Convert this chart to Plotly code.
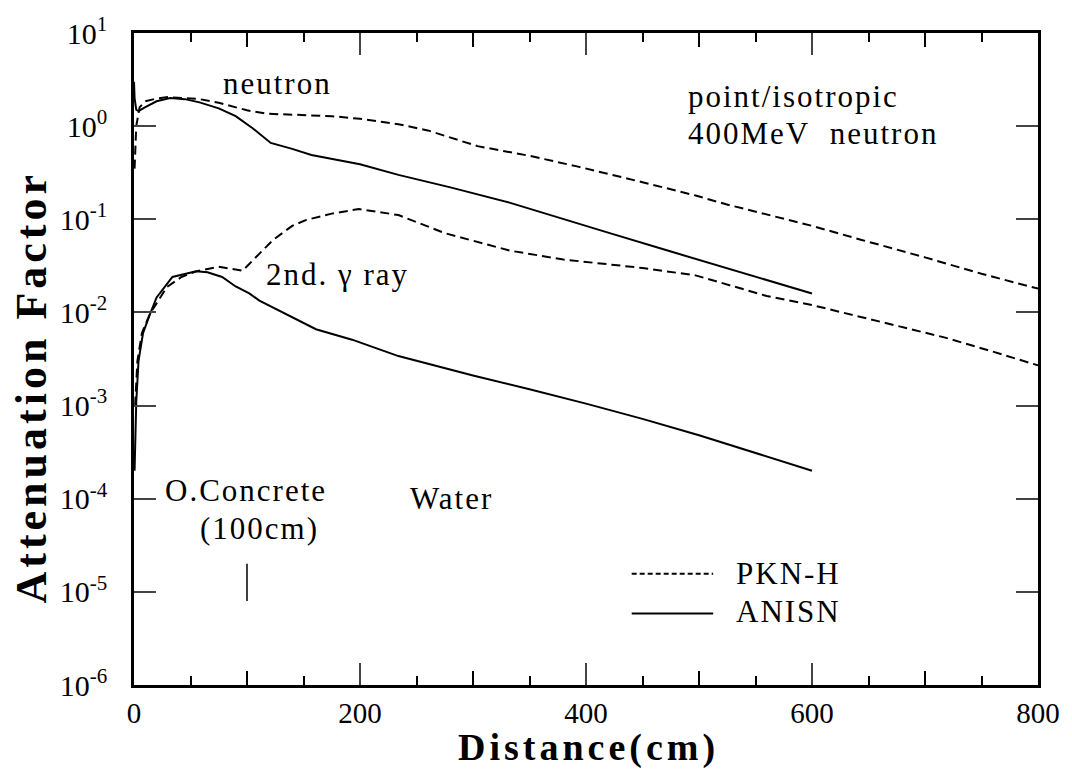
import plotly.graph_objects as go

# --- data -------------------------------------------------------------
# neutron attenuation, PKN-H
n_pkn_x = [0.5, 2, 5, 10, 20, 30, 45, 58, 75, 87, 100, 117, 140, 175, 200,
           234, 260, 304, 350, 392, 450, 497, 524, 570, 600, 644, 700, 750, 800]
n_pkn_y = [0.35, 1.0, 1.6, 1.85, 1.98, 2.05, 2.0, 1.95, 1.78, 1.62, 1.48, 1.36,
           1.32, 1.28, 1.2, 1.05, 0.9, 0.61, 0.48, 0.37, 0.25, 0.18, 0.145,
           0.105, 0.085, 0.060, 0.039, 0.026, 0.018]

# neutron attenuation, ANISN
n_an_x = [0, 0.5, 2, 4, 10, 20, 32, 45, 58, 75, 90, 105, 121, 140, 157, 200,
          234, 280, 333, 380, 421, 470, 524, 560, 600]
n_an_y = [3.0, 2.0, 1.5, 1.45, 1.6, 1.85, 2.0, 1.95, 1.8, 1.55, 1.28, 0.95,
          0.66, 0.57, 0.49, 0.39, 0.30, 0.22, 0.15, 0.10, 0.071, 0.047, 0.03,
          0.022, 0.016]

# secondary gamma ray, PKN-H
g_pkn_x = [1, 3, 7, 14, 29, 42, 55, 75, 96, 105, 123, 140, 152, 175, 199, 216,
           234, 275, 333, 380, 421, 450, 497, 524, 560, 600, 650, 717, 760, 800]
g_pkn_y = [0.001, 0.003, 0.006, 0.0096, 0.0187, 0.024, 0.0276, 0.031, 0.028,
           0.036, 0.060, 0.085, 0.098, 0.115, 0.129, 0.12, 0.111, 0.071, 0.046,
           0.037, 0.033, 0.030, 0.025, 0.020, 0.015, 0.012, 0.0085, 0.0054,
           0.0038, 0.0027]

# secondary gamma ray, ANISN
g_an_x = [0.5, 1, 2, 4, 8, 14, 20, 34, 55, 65, 78, 90, 102, 111, 125, 143, 161,
          193, 234, 300, 350, 400, 450, 500, 550, 600]
g_an_y = [0.0002, 0.0004, 0.0011, 0.003, 0.006, 0.0095, 0.0145, 0.024, 0.0276,
          0.027, 0.024, 0.019, 0.016, 0.0134, 0.011, 0.0085, 0.0066, 0.0051,
          0.0034, 0.0021, 0.0015, 0.00105, 0.00072, 0.00048, 0.00031, 0.0002]

# concrete / water boundary marker
boundary_x = [100, 100]
boundary_y = [2.0e-5, 8.0e-6]

y_tickvals = [1e1, 1e0, 1e-1, 1e-2, 1e-3, 1e-4, 1e-5, 1e-6]
y_ticktext = ["10<sup>1</sup>", "10<sup>0</sup>", "10<sup>-1</sup>", "10<sup>-2</sup>",
              "10<sup>-3</sup>", "10<sup>-4</sup>", "10<sup>-5</sup>", "10<sup>-6</sup>"]
x_tickvals = [0, 200, 400, 600, 800]
x_mid_ticks = [100, 300, 500, 700]

# --- styling ------------------------------------------------------------
SERIF = "Liberation Serif"
DASH = "9px,5px"
LW = 2


def spaced(text, px=2):
    return f'<span style="letter-spacing:{px}px">{text}</span>'


fig = go.Figure()
fig.add_trace(go.Scatter(x=n_pkn_x, y=n_pkn_y, mode="lines",
                         line=dict(color="black", width=LW, dash=DASH)))
fig.add_trace(go.Scatter(x=n_an_x, y=n_an_y, mode="lines",
                         line=dict(color="black", width=LW)))
fig.add_trace(go.Scatter(x=g_pkn_x, y=g_pkn_y, mode="lines",
                         line=dict(color="black", width=LW, dash=DASH)))
fig.add_trace(go.Scatter(x=g_an_x, y=g_an_y, mode="lines",
                         line=dict(color="black", width=LW)))
fig.add_trace(go.Scatter(x=boundary_x, y=boundary_y, mode="lines",
                         line=dict(color="black", width=1.5)))

L, R, T, B = 134, 28, 29, 86
W, H = 1072, 771
pw, ph = W - L - R, H - T - B


def px(xp):
    return (xp - L) / pw


def py(yp):
    return (H - B - yp) / ph


annots = [
    dict(text=spaced("neutron"), x=px(278), y=py(80), xanchor="center"),
    dict(text=spaced("point/isotropic"), x=px(690), y=py(93), xanchor="left"),
    dict(text=spaced("400MeV&nbsp;&nbsp;neutron"), x=px(690), y=py(130), xanchor="left"),
    dict(text=spaced("2nd. γ ray"), x=px(265), y=py(272), xanchor="left"),
    dict(text=spaced("O.Concrete"), x=px(163), y=py(489), xanchor="left"),
    dict(text=spaced("(100cm)"), x=px(198), y=py(528), xanchor="left"),
    dict(text=spaced("Water"), x=px(410), y=py(497), xanchor="left"),
    dict(text=spaced("PKN-H"), x=px(738), y=py(573), xanchor="left"),
    dict(text=spaced("ANISN"), x=px(738), y=py(611), xanchor="left"),
]
for a in annots:
    fig.add_annotation(xref="paper", yref="paper", yanchor="middle",
                       showarrow=False, font=dict(family=SERIF, size=31, color="black"),
                       **a)

# axis titles
fig.add_annotation(text=spaced("Distance(cm)", 4), xref="paper", yref="paper",
                   x=px(592), y=py(771), xanchor="center", yanchor="bottom",
                   showarrow=False, borderpad=0,
                   font=dict(family=SERIF, size=38, color="black", weight="bold"))
fig.add_annotation(text=spaced("Attenuation Factor", 4), xref="paper", yref="paper",
                   x=px(31), y=py(385), xanchor="center", yanchor="middle",
                   textangle=-90, showarrow=False,
                   font=dict(family=SERIF, size=44, color="black", weight="bold"))

# legend samples
fig.add_shape(type="line", xref="paper", yref="paper", x0=px(635), x1=px(717),
              y0=py(573), y1=py(573), line=dict(color="black", width=LW, dash="5px,3px"))
fig.add_shape(type="line", xref="paper", yref="paper", x0=px(635), x1=px(717),
              y0=py(613), y1=py(613), line=dict(color="black", width=LW))

# intermediate-length ticks at odd hundreds, bottom and top
tl = 14 / ph
for xv in x_mid_ticks:
    fig.add_shape(type="line", xref="x", yref="paper", x0=xv, x1=xv, y0=0, y1=tl,
                  line=dict(color="black", width=2))
    fig.add_shape(type="line", xref="x", yref="paper", x0=xv, x1=xv, y0=1, y1=1 - tl,
                  line=dict(color="black", width=2))

fig.update_layout(
    width=W, height=H,
    margin=dict(l=L, r=R, t=T, b=B),
    paper_bgcolor="white", plot_bgcolor="white",
    showlegend=False,
    font=dict(family=SERIF, color="black"),
    xaxis=dict(range=[0, 800], tickvals=x_tickvals, ticks="inside", ticklen=22,
               tickwidth=2, showline=True, linewidth=2.5, linecolor="black",
               mirror="allticks", showgrid=False, zeroline=False,
               tickfont=dict(family=SERIF, size=29), ticklabelstandoff=0,
               minor=dict(dtick=50, ticks="inside", ticklen=9, tickwidth=2,
                          tickcolor="black", showgrid=False)),
    yaxis=dict(type="log", range=[-6, 1], tickvals=y_tickvals, ticktext=y_ticktext,
               ticks="inside", ticklen=22, tickwidth=2, showline=True,
               linewidth=2.5, linecolor="black", mirror="allticks",
               showgrid=False, zeroline=False,
               tickfont=dict(family=SERIF, size=30), ticklabelstandoff=18),
)

fig.write_html("out.html")
